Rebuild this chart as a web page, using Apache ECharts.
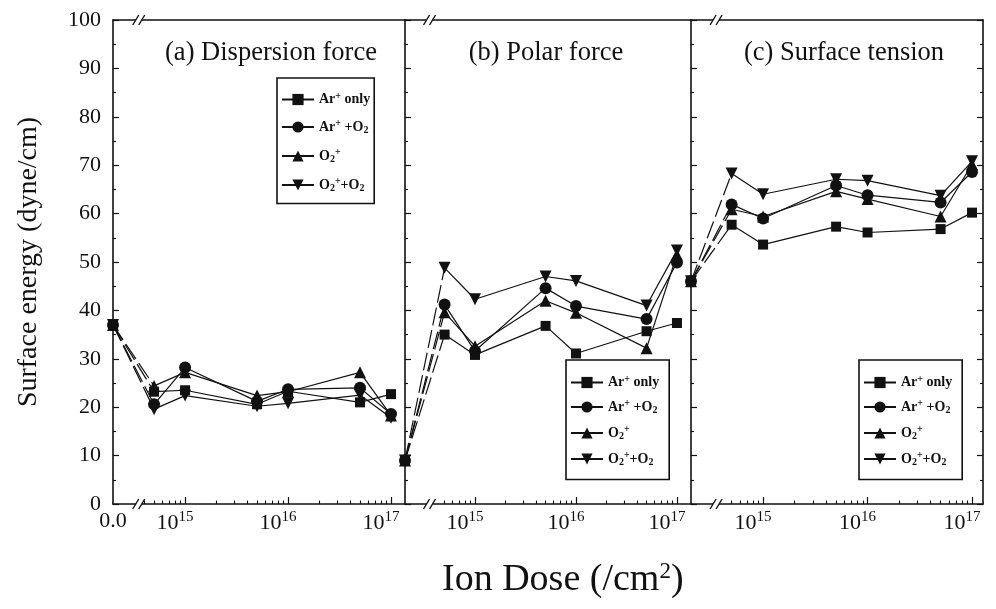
<!DOCTYPE html>
<html>
<head>
<meta charset="utf-8">
<script src="https://cdn.jsdelivr.net/npm/echarts@6/dist/echarts.min.js"></script>
<style>
  html, body { margin: 0; padding: 0; background: #fff; }
  #main { width: 996px; height: 609px; }
</style>
</head>
<body>
<div id="main"></div>
<script>
// ion dose (/cm^2); 0 = untreated sample, drawn at the left edge of each panel
var doses = [0, 5e14, 1e15, 5e15, 1e16, 5e16, 1e17];
var seriesNames = ['Ar+ only', 'Ar+ +O2', 'O2+', 'O2+ +O2'];
var panelTitles = ['(a) Dispersion force', '(b) Polar force', '(c) Surface tension'];
var xTickExps = [15, 16, 17];

// (a) dispersion force
var dispArOnly = [37, 23.2, 23.5, 20.6, 23.3, 21.0, 22.7];
var dispArO2   = [37, 20.6, 28.2, 21.2, 23.7, 24.0, 18.6];
var dispO2     = [37, 24.4, 27.2, 22.4, 23.2, 27.2, 18.3];
var dispO2O2   = [37, 19.6, 22.4, 20.2, 20.8, 22.5, 17.8];
// (b) polar force
var polArOnly = [9, 35.0, 30.8, 36.8, 31.1, 35.7, 37.4];
var polArO2   = [9, 41.2, 31.6, 44.6, 40.9, 38.2, 49.9];
var polO2     = [9, 39.6, 32.6, 42.0, 39.5, 32.2, 51.5];
var polO2O2   = [9, 48.8, 42.3, 47.0, 46.1, 41.0, 52.4];
// (c) surface tension
var stArOnly = [46, 57.7, 53.6, 57.3, 56.1, 56.8, 60.2];
var stArO2   = [46, 61.9, 59.0, 65.8, 63.8, 62.3, 68.6];
var stO2     = [46, 60.9, 59.4, 64.6, 63.0, 59.4, 70.2];
var stO2O2   = [46, 68.3, 64.0, 67.1, 66.8, 63.7, 70.8];

var panelData = [
  [dispArOnly, dispArO2, dispO2, dispO2O2],
  [polArOnly, polArO2, polO2, polO2O2],
  [stArOnly, stArO2, stO2, stO2O2]
];

var FONT = 'Liberation Serif';
var INK = '#111';
var grids = [
  { left: 113, top: 20, width: 292, height: 484 },
  { left: 405, top: 20, width: 286, height: 484 },
  { left: 691, top: 20, width: 292, height: 484 }
];
var xRange = [[14.30, 17.136], [14.307, 17.139], [14.31, 17.105]];
var breakAt = 14.55;
var titleCenter = [266, 541, 839];
var symbols = [
  { symbol: 'rect', size: 10, rotate: 0 },
  { symbol: 'circle', size: 12, rotate: 0 },
  { symbol: 'triangle', size: 12, rotate: 0 },
  { symbol: 'triangle', size: 12, rotate: 180 }
];
var legendPos = [
  { left: 277, top: 78, itemGap: 12, padding: [13, 4, 10, 4] },
  { left: 566, top: 360, itemGap: 9, padding: [14, 10, 12, 4] },
  { left: 859, top: 360, itemGap: 9, padding: [14, 10, 12, 4] }
];

var labelText = {
  'Ar+ only': 'Ar{sup|+} only',
  'Ar+ +O2': 'Ar{sup|+} +O{sub|2}',
  'O2+': 'O{sub|2}{sup|+}',
  'O2+ +O2': 'O{sub|2}{sup|+}+O{sub|2}'
};

function minorTicks(min) {
  var out = [];
  for (var e = 14; e <= 16; e++) {
    for (var k = 2; k <= 9; k++) {
      var v = Math.log10(k) + e;
      if (v > min + 0.3) out.push(v);
    }
  }
  return out;
}

var xAxis = [], yAxis = [], series = [], legend = [], title = [];

grids.forEach(function (g, p) {
  var mn = xRange[p][0], mx = xRange[p][1];
  var lineStyle = { color: INK, width: 1.6 };
  xAxis.push({
    type: 'value', gridIndex: p, min: mn, max: mx, position: 'bottom',
    axisLine: { lineStyle: lineStyle },
    axisTick: { inside: true, length: 7, lineStyle: { color: INK, width: 1.2 }, customValues: xTickExps },
    axisLabel: {
      customValues: p === 0 ? [mn].concat(xTickExps) : xTickExps,
      margin: 6,
      color: INK, fontFamily: FONT, fontSize: 22,
      formatter: function (v) {
        if (v < 14.5) return '{n|0.0}';
        return '{n|10}{sup|' + Math.round(v) + '}{pad|}';
      },
      rich: {
        n: { fontFamily: FONT, fontSize: 22, color: INK },
        sup: { fontFamily: FONT, fontSize: 15, color: INK, padding: [0, 0, 12, 0] },
        pad: { width: 20 }
      }
    },
    splitLine: { show: false }
  });
  xAxis.push({
    type: 'value', gridIndex: p, min: mn, max: mx, position: 'bottom',
    axisLine: { show: false },
    axisTick: { inside: true, length: 3.5, lineStyle: { color: INK, width: 1.1 }, customValues: minorTicks(mn) },
    axisLabel: { show: false },
    splitLine: { show: false }
  });
  xAxis.push({
    type: 'value', gridIndex: p, min: mn, max: mx, position: 'top',
    axisLine: { lineStyle: lineStyle },
    axisTick: { show: false }, axisLabel: { show: false }, splitLine: { show: false }
  });

  yAxis.push({
    type: 'value', gridIndex: p, min: 0, max: 100, interval: 10, position: 'left',
    name: p === 0 ? 'Surface energy (dyne/cm)' : '',
    nameLocation: 'middle', nameGap: 70,
    nameTextStyle: { fontFamily: FONT, fontSize: 28, color: INK },
    axisLine: { lineStyle: lineStyle },
    axisTick: { inside: true, length: 6, lineStyle: { color: INK, width: 1.2 } },
    minorTick: { show: true, splitNumber: 2, length: 3, lineStyle: { color: INK, width: 1.1 } },
    axisLabel: { show: p === 0, margin: 12, color: INK, fontFamily: FONT, fontSize: 22 },
    splitLine: { show: false }
  });

  title.push({
    text: panelTitles[p],
    left: titleCenter[p], top: 35, textAlign: 'center',
    textStyle: { fontFamily: FONT, fontSize: 26.5, fontWeight: 'normal', color: INK }
  });

  var lp = legendPos[p];
  legend.push({
    data: seriesNames, orient: 'vertical', left: lp.left, top: lp.top,
    itemGap: lp.itemGap, padding: lp.padding, itemWidth: 32, itemHeight: 14,
    borderColor: INK, borderWidth: 1.6, selectedMode: false,
    formatter: function (name) { return labelText[name]; },
    textStyle: {
      fontFamily: FONT, fontSize: 14, fontWeight: 'bold', color: INK,
      rich: {
        sup: { fontFamily: FONT, fontSize: 10, fontWeight: 'bold', color: INK, padding: [0, 0, 7, 0] },
        sub: { fontFamily: FONT, fontSize: 10, fontWeight: 'bold', color: INK, padding: [7, 0, 0, 0] }
      }
    }
  });

  var vals = panelData[p];
  // main series (all treated doses)
  vals.forEach(function (arr, s) {
    var sym = symbols[s];
    series.push({
      type: 'line', name: seriesNames[s], xAxisIndex: 3 * p, yAxisIndex: p,
      data: doses.slice(1).map(function (d, k) { return [Math.log10(d), arr[k + 1]]; }),
      symbol: sym.symbol, symbolSize: sym.size, symbolRotate: sym.rotate,
      showAllSymbol: true,
      lineStyle: { color: INK, width: 1.2 },
      itemStyle: { color: INK },
      animation: false, z: 3
    });
  });
  // dashed link across the axis break, from the untreated value
  vals.forEach(function (arr, s) {
    var sym = symbols[s];
    series.push({
      type: 'line', name: seriesNames[s], xAxisIndex: 3 * p, yAxisIndex: p,
      data: [
        { value: [mn, arr[0]], symbol: sym.symbol, symbolSize: sym.size, symbolRotate: sym.rotate },
        { value: [Math.log10(doses[1]), arr[1]], symbol: 'none' }
      ],
      lineStyle: { color: INK, width: 1.2, type: [18, 5] },
      itemStyle: { color: INK },
      animation: false, z: 2, silent: true
    });
  });
});

// right edge of panel (c)
yAxis.push({
  type: 'value', gridIndex: 2, min: 0, max: 100, interval: 10, position: 'right',
  axisLine: { lineStyle: { color: INK, width: 1.6 } },
  axisTick: { inside: true, length: 6, lineStyle: { color: INK, width: 1.2 } },
  minorTick: { show: true, splitNumber: 2, length: 3, lineStyle: { color: INK, width: 1.1 } },
  axisLabel: { show: false }, splitLine: { show: false }
});

var chart = echarts.init(document.getElementById('main'));
chart.setOption({
  backgroundColor: '#fff',
  animation: false,
  title: title,
  legend: legend,
  grid: grids,
  xAxis: xAxis,
  yAxis: yAxis,
  series: series
});

// axis-break marks "//" and the shared x-axis name
var graphic = [{
  type: 'text', left: 442, top: 560,
  style: {
    text: 'Ion Dose (/cm{sup|2})',
    font: '38px "' + FONT + '"', fill: INK,
    rich: { sup: { fontFamily: FONT, fontSize: 23, fill: INK, padding: [0, 0, 17, 0] } }
  }
}];
grids.forEach(function (g, p) {
  [0, 100].forEach(function (yv) {
    var pt = chart.convertToPixel({ gridIndex: p }, [breakAt, yv]);
    graphic.push({
      type: 'rect', shape: { x: pt[0] - 3, y: pt[1] - 2, width: 6, height: 4 },
      style: { fill: '#fff' }, z: 100
    });
    [-3, 3].forEach(function (dx) {
      graphic.push({
        type: 'line',
        shape: { x1: pt[0] + dx - 3, y1: pt[1] + 5, x2: pt[0] + dx + 3, y2: pt[1] - 5 },
        style: { stroke: INK, lineWidth: 1.4 }, z: 101
      });
    });
  });
});
chart.setOption({ graphic: graphic });
</script>
</body>
</html>
